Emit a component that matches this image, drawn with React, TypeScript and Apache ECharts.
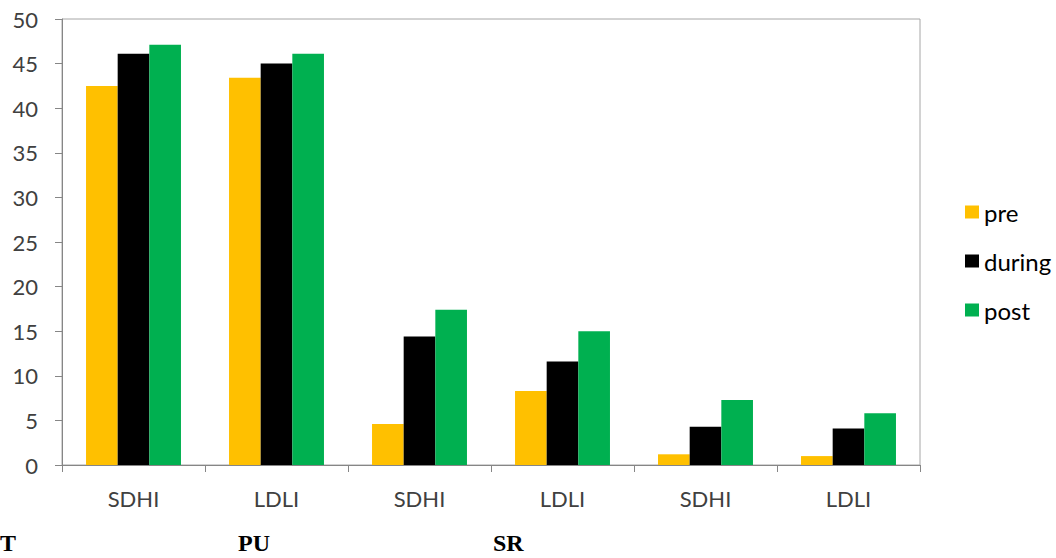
import React, { useEffect, useRef } from "react";
import * as echarts from "echarts";

const categories = ["SDHI", "LDLI", "SDHI", "LDLI", "SDHI", "LDLI"];
const groupLabels = ["T", "PU", "SR"];
const groupLabelX = [0, 238, 493];
const seriesNames = ["pre", "during", "post"];
const seriesColors = ["#FFC000", "#000000", "#00B050"];
const preValues = [42.5, 43.4, 4.6, 8.3, 1.2, 1.0];
const duringValues = [46.1, 45.0, 14.4, 11.6, 4.3, 4.1];
const postValues = [47.1, 46.1, 17.4, 15.0, 7.3, 5.8];
const yTicks = { min: 0, max: 50, interval: 5 };

const FONT = "Lato, 'Liberation Sans', sans-serif";

export default function App() {
  const ref = useRef<HTMLDivElement>(null);
  useEffect(() => {
    if (!ref.current) return;
    const chart = echarts.init(ref.current, undefined, { renderer: "svg" });
    const values = [preValues, duringValues, postValues];
    chart.setOption({
      animation: false,
      backgroundColor: "#ffffff",
      grid: {
        left: 62,
        right: 136,
        top: 19,
        bottom: 93,
        containLabel: false,
        show: true,
        borderColor: "#a6a6a6",
        borderWidth: 1,
      },
      legend: {
        orient: "vertical",
        left: 960,
        top: 195,
        icon: "rect",
        itemWidth: 14,
        itemHeight: 13,
        itemGap: 25,
        data: seriesNames,
        textStyle: {
          fontFamily: FONT,
          fontSize: 24,
          color: "#000000",
          lineHeight: 24,
          padding: [0, 0, 0, 0],
        },
      },
      xAxis: {
        type: "category",
        data: categories,
        axisLine: { show: true, lineStyle: { color: "#868686", width: 1 } },
        axisTick: { show: true, length: 7, lineStyle: { color: "#868686" } },
        axisLabel: {
          fontFamily: FONT,
          fontSize: 22,
          color: "#404040",
          margin: 22,
        },
        splitLine: { show: false },
      },
      yAxis: {
        type: "value",
        min: yTicks.min,
        max: yTicks.max,
        interval: yTicks.interval,
        axisLine: { show: true, lineStyle: { color: "#868686", width: 1 } },
        axisTick: { show: true, length: 7, lineStyle: { color: "#868686" } },
        axisLabel: {
          fontFamily: FONT,
          fontSize: 22,
          color: "#404040",
          margin: 24,
        },
        splitLine: { show: false },
      },
      series: seriesNames.map((name, i) => ({
        name,
        type: "bar",
        data: values[i],
        barGap: "0%",
        barCategoryGap: "33.6%",
        itemStyle: { color: seriesColors[i] },
      })),
      graphic: groupLabels.map((t, i) => ({
        type: "text",
        x: groupLabelX[i],
        y: 543,
        style: {
          text: t,
          font: "bold 24px 'Liberation Serif', serif",
          fill: "#000000",
          textAlign: "left",
          textVerticalAlign: "middle",
        },
      })),
    });
    return () => chart.dispose();
  }, []);
  return (
    <div
      ref={ref}
      style={{ position: "fixed", left: 0, top: 0, width: 1056, height: 558 }}
    />
  );
}
